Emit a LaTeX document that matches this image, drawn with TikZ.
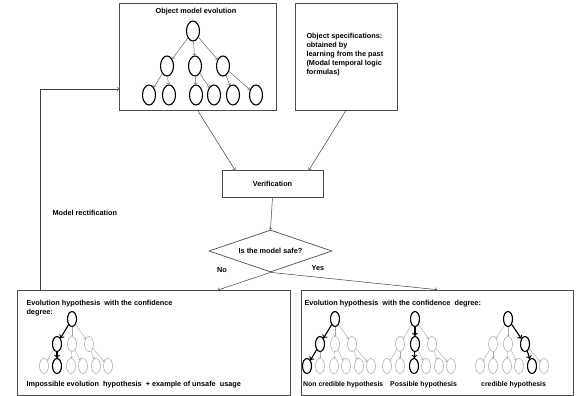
\documentclass[tikz,border=0pt]{standalone}
\usepackage{fontspec}
\setmainfont{Liberation Sans}
\usepackage{tikz}
\usetikzlibrary{shapes.geometric}

% small hypothesis tree: prefix, root x, bold child, bold leaf
\newcommand{\hyptree}[4]{%
\node[fadenode] (#1r) at (#2,319) {};
\node[fadenode] (#1c1) at ({#2-15},344) {};
\node[fadenode] (#1c2) at (#2,344) {};
\node[fadenode] (#1c3) at ({#2+17},344) {};
\node[fadenode] (#1l1) at ({#2-28},366) {};
\node[fadenode] (#1l2) at ({#2-15},366) {};
\node[fadenode] (#1l3) at ({#2-1},366) {};
\node[fadenode] (#1l4) at ({#2+11},366) {};
\node[fadenode] (#1l5) at ({#2+24},366) {};
\node[fadenode] (#1l6) at ({#2+36},366) {};
\draw[fadeedge] (#1r) -- (#1c1);
\draw[fadeedge] (#1r) -- (#1c2);
\draw[fadeedge] (#1r) -- (#1c3);
\draw[fadeedge] (#1c1) -- (#1l1);
\draw[fadeedge] (#1c1) -- (#1l2);
\draw[fadeedge] (#1c2) -- (#1l3);
\draw[fadeedge] (#1c2) -- (#1l4);
\draw[fadeedge] (#1c3) -- (#1l5);
\draw[fadeedge] (#1c3) -- (#1l6);
\node[hlnode] (#1rb) at (#1r) {};
\node[hlnode] (#1cb) at (#1c#3) {};
\node[hlnode] (#1lb) at (#1l#4) {};
\draw[hledge] (#1rb) -- (#1cb);
\draw[hledge] (#1cb) -- (#1lb);
}

\begin{document}
\begin{tikzpicture}[x=1pt,y=-1pt,
  font=\bfseries\fontsize{7.3}{8.8}\selectfont,
  box/.style={draw=black!70,line width=0.7pt,rectangle,inner sep=0pt},
  flow/.style={->,draw=black!75,line width=0.5pt},
  treenode/.style={draw,ellipse,line width=1.1pt,minimum width=13pt,minimum height=20pt,inner sep=0pt},
  treeedge/.style={->,draw=black!60,line width=0.5pt},
  fadenode/.style={draw=black!35,ellipse,line width=0.5pt,minimum width=9pt,minimum height=15pt,inner sep=0pt},
  fadeedge/.style={->,draw=black!35,line width=0.4pt},
  hlnode/.style={draw=black,ellipse,line width=1.1pt,minimum width=9pt,minimum height=15pt,inner sep=0pt},
  hledge/.style={->,draw=black,line width=1.1pt},
  caption/.style={anchor=west,inner sep=0pt,font=\bfseries\fontsize{6.9}{8}\selectfont}]
\useasboundingbox (0,0) rectangle (578,396);

\node[box,minimum width=157pt,minimum height=107pt] (model) at (197.5,56.5) {};
\node (modeltitle) at (196,12) {Object model evolution};
\node[box,minimum width=102pt,minimum height=107pt] (spec) at (346,56.5) {};
\node[anchor=north west,align=left] (spectext) at (303,30) {Object specifications:\\ obtained by\\ learning from the past\\(Modal temporal logic\\ formulas)};

% tree in the model box
\node[treenode] (r) at (193,31) {};
\node[treenode] (c1) at (167,66) {};
\node[treenode] (c2) at (195,66) {};
\node[treenode] (c3) at (223,66) {};
\node[treenode] (l1) at (149,95) {};
\node[treenode] (l2) at (169,95) {};
\node[treenode] (l3) at (196,95) {};
\node[treenode] (l4) at (214,95) {};
\node[treenode] (l5) at (233,95) {};
\node[treenode] (l6) at (256,95) {};
\draw[treeedge] (r) -- (c1);
\draw[treeedge] (r) -- (c2);
\draw[treeedge] (r) -- (c3);
\draw[treeedge] (c1) -- (l1);
\draw[treeedge] (c1) -- (l2);
\draw[treeedge] (c2) -- (l3);
\draw[treeedge] (c2) -- (l4);
\draw[treeedge] (c3) -- (l5);
\draw[treeedge] (c3) -- (l6);

\node[box,minimum width=101pt,minimum height=27pt] (verif) at (272.5,183.5) {Verification};
\node[draw=black!70,line width=0.7pt,diamond,aspect=2.9,minimum width=123pt,minimum height=42pt,inner sep=0pt] (safe) at (270.5,251) {Is the model safe?};
\node (no) at (222,270) {No};
\node (yes) at (318,268) {Yes};

\node[box,minimum width=273pt,minimum height=105pt] (hypl) at (153.5,342.5) {};
\node[box,minimum width=272pt,minimum height=105pt] (hypr) at (437,342.5) {};

\coordinate (verifinl) at (235,170);
\coordinate (verifinr) at (309,170);
\coordinate (noend) at (218,290);
\coordinate (rectout) at (40,290);
\coordinate (rectin) at (119,89);
\draw[flow] (model.south) -- (verifinl);
\draw[flow] (spec.south) -- (verifinr);
\draw[flow] (verif.south) -- (safe.north);
\draw[flow] (safe.south) -- (noend);
\draw[flow] (safe.south) -- (hypr.north);
\draw[flow] (rectout) |- (rectin);
\node[anchor=west] (rect) at (49,213) {Model rectification};

% left hypothesis box
\node[anchor=north west,align=left] (hypltitle) at (23,297) {Evolution hypothesis\ \ with the confidence\\degree:};
\hyptree{a}{72}{1}{2}
\node[anchor=west] (hyplcap) at (23,385) {Impossible evolution\ \ hypothesis\ \ + example of unsafe\ \ usage};

% right hypothesis box
\node[anchor=north west] (hyprtitle) at (301,297) {Evolution hypothesis\ \ with the confidence\ \ degree:};
\hyptree{b}{335}{1}{1}
\hyptree{c}{415}{2}{3}
\hyptree{d}{508}{3}{5}
\node[caption] (capb) at (303,385) {Non credible hypothesis};
\node[caption] (capc) at (390,385) {Possible hypothesis};
\node[caption] (capd) at (481,385) {credible hypothesis};
\end{tikzpicture}
\end{document}
